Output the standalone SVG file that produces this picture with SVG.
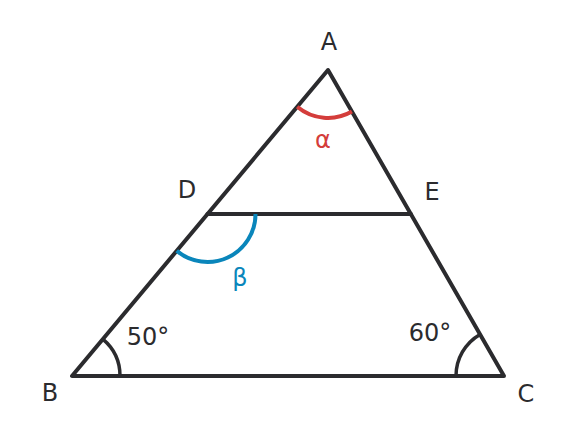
<svg xmlns="http://www.w3.org/2000/svg" width="576" height="448" viewBox="0 0 576 448">
<style>
.ln{fill:none;stroke:#2b2b2e;stroke-width:4;stroke-linejoin:round;stroke-linecap:round}
.arc{fill:none;stroke:#2b2b2e;stroke-width:3.5}
.t{font-family:"DejaVu Sans",sans-serif;font-size:24px;fill:#2b2b2e;text-anchor:middle}
</style>
<rect width="576" height="448" fill="#ffffff"/>
<g id="connectors">
<path class="ln" d="M328,70 L72,376 L504,376 Z"/>
<path class="ln" d="M207.5,214 L410.8,214"/>
<path class="arc" d="M102.8,339.2 A48,48 0 0 1 120,376"/>
<path class="arc" d="M480,334.4 A48,48 0 0 0 456,376"/>
<path fill="none" stroke="#d43d3b" stroke-width="4" d="M297.2,106.8 A48,48 0 0 0 351.9,111.6"/>
<path fill="none" stroke="#0a86bb" stroke-width="4" d="M255.5,214 A48,48 0 0 1 176.7,250.8"/>
</g>
<g id="A"><text class="t" x="329" y="50">A</text></g>
<g id="B"><text class="t" x="50" y="401">B</text></g>
<g id="C"><text class="t" x="526" y="402">C</text></g>
<g id="D"><text class="t" x="187" y="198">D</text></g>
<g id="E"><text class="t" x="432" y="200">E</text></g>
<g id="alpha"><text class="t" x="323" y="148" style="fill:#d43d3b">α</text></g>
<g id="beta"><text class="t" x="240" y="286" style="fill:#0a86bb">β</text></g>
<g id="angB"><text class="t" x="148" y="345">50°</text></g>
<g id="angC"><text class="t" x="430" y="341">60°</text></g>
</svg>
